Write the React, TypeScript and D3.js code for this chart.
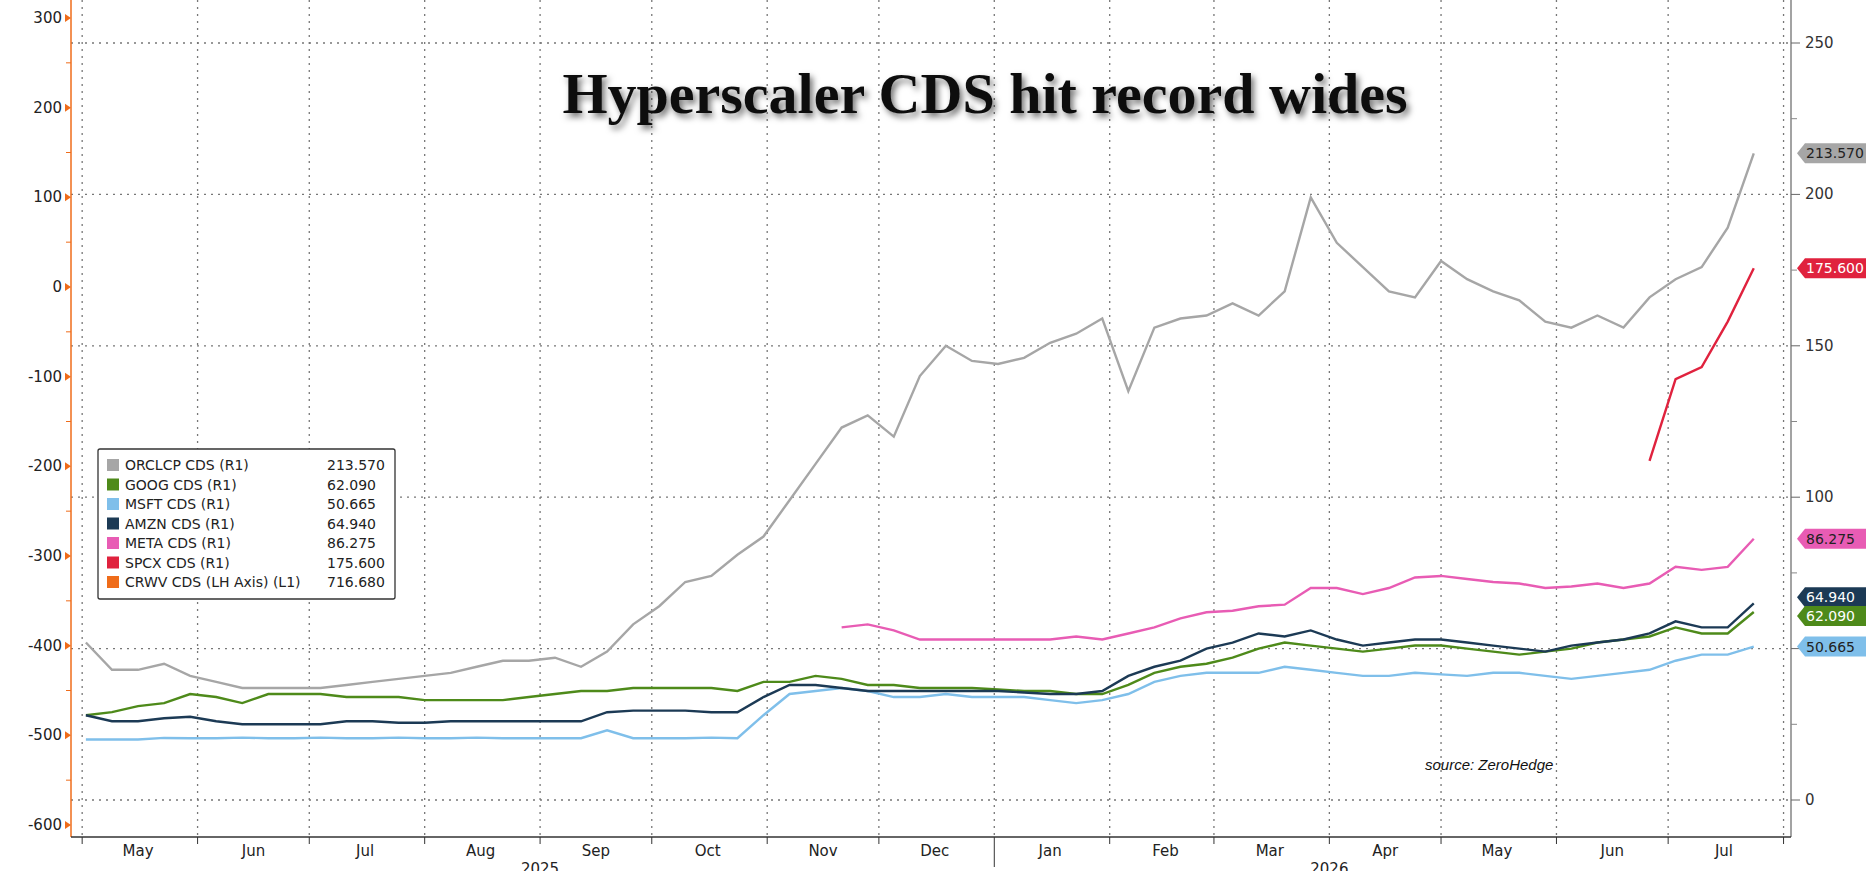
import React from "react";
import * as d3 from "d3";

const START = "2025-05-02";
const WEEKS = 65;
const orcl = [52,43,43,45,41,39,37,37,37,37,38,39,40,41,42,44,46,46,47,44,49,58,64,72,74,81,87,99,111,123,127,120,140,150,145,144,146,151,154,159,135,156,159,160,164,160,168,199,184,176,168,166,178,172,168,165,158,156,160,156,166,172,176,189,213.57];
const goog = [28,29,31,32,35,34,32,35,35,35,34,34,34,33,33,33,33,34,35,36,36,37,37,37,37,36,39,39,41,40,38,38,37,37,37,36.5,36,36,35,35,38,42,44,45,47,50,52,51,50,49,50,51,51,50,49,48,49,50,52,53,54,57,55,55,62.09];
const amzn = [28,26,26,27,27.5,26,25,25,25,25,26,26,25.5,25.5,26,26,26,26,26,26,29,29.5,29.5,29.5,29,29,34,38,38,37,36,36,36,36,36,36,35.5,35,35,36,41,44,46,50,52,55,54,56,53,51,52,53,53,52,51,50,49,51,52,53,55,59,57,57,64.94];
const msft = [20,20,20,20.5,20.4,20.4,20.6,20.4,20.4,20.6,20.4,20.4,20.6,20.4,20.4,20.6,20.4,20.4,20.4,20.4,23,20.4,20.4,20.4,20.6,20.4,28,35,36,37,36,34,34,35,34,34,34,33,32,33,35,39,41,42,42,42,44,43,42,41,41,42,41.5,41,42,42,41,40,41,42,43,46,48,48,50.665];
const meta: (number|null)[] = [...Array(29).fill(null),57,58,56,53,53,53,53,53,53,54,53,55,57,60,62,62.5,64,64.5,70,70,68,70,73.5,74,73,72,71.5,70,70.5,71.5,70,71.5,77,76,77,86.275];
const spcx: (number|null)[] = [...Array(60).fill(null),112,139,143,158,175.6];

const legendNames = ["ORCLCP CDS (R1)","GOOG CDS (R1)","MSFT CDS (R1)","AMZN CDS (R1)","META CDS (R1)","SPCX CDS  (R1)","CRWV CDS (LH Axis) (L1)"];
const legendValues = ["213.570","62.090","50.665","64.940","86.275","175.600","716.680"];
const colors = ["#a6a6a6","#4e8a1a","#7fbfea","#1c3a55","#e85cb4","#e0223e","#ef6c1a"];
const monthLabels = ["May","Jun","Jul","Aug","Sep","Oct","Nov","Dec","Jan","Feb","Mar","Apr","May","Jun","Jul"];
const leftTicks = [300,200,100,0,-100,-200,-300,-400,-500,-600];
const rightTicks = [0,50,100,150,200,250];

export default function App() {
  const W = 1866, H = 871;
  const x = d3.scaleTime().domain([new Date(2025,3,28), new Date(2026,7,3)]).range([71, 1791]);
  const yR = d3.scaleLinear().domain([0,250]).range([800,43]);
  const yL = d3.scaleLinear().domain([-600,300]).range([825,18]);
  const t0 = new Date(START + "T00:00:00");
  const dates = d3.range(WEEKS).map(i => d3.timeDay.offset(t0, 7*i));
  const series = [orcl, goog, msft, amzn, meta, spcx];
  const line = d3.line<[Date, number|null]>().defined(d => d[1] != null).x(d => x(d[0])).y(d => yR(d[1] as number));
  const months = d3.timeMonth.range(new Date(2025,4,1), new Date(2026,7,2));
  const plotBottom = 837;
  const font = "DejaVu Sans";
  const tags = [
    {v:213.57, c:colors[0], t:"213.570", tc:"#222"},
    {v:175.6, c:colors[5], t:"175.600", tc:"#fff"},
    {v:86.275, c:colors[4], t:"86.275", tc:"#222"},
    {v:64.94, c:colors[3], t:"64.940", tc:"#fff", dy:-6},
    {v:62.09, c:colors[1], t:"62.090", tc:"#fff", dy:4},
    {v:50.665, c:colors[2], t:"50.665", tc:"#222"},
  ];
  return (
    <svg width={W} height={H} style={{position:"absolute",left:0,top:0,background:"#fff"}} fontFamily={font}>
      <defs>
        <filter id="sh" x="-10%" y="-30%" width="120%" height="160%">
          <feDropShadow dx="3" dy="4" stdDeviation="3" floodColor="#000" floodOpacity="0.55"/>
        </filter>
      </defs>
      {rightTicks.map(t => <line key={"h"+t} x1={71} x2={1791} y1={yR(t)} y2={yR(t)} stroke="#777" strokeDasharray="2,5" strokeWidth={1.3}/>)}
      {months.map((m,i) => <line key={"v"+i} x1={x(m)} x2={x(m)} y1={0} y2={plotBottom} stroke="#777" strokeDasharray="2,5" strokeWidth={1.3}/>)}
      <text x={985} y={113} textAnchor="middle" fontFamily="Liberation Serif" fontWeight="bold" fontSize={58} fill="#111" filter="url(#sh)">Hyperscaler CDS hit record wides</text>
      {series.map((s,i) => <path key={i} d={line(dates.map((d,j)=>[d, s[j] ?? null]) as any) || ""} fill="none" stroke={colors[i]} strokeWidth={2.4}/>)}
      <line x1={71} x2={71} y1={0} y2={plotBottom} stroke={colors[6]} strokeWidth={1.5}/>
      {leftTicks.map(t => <g key={"l"+t}>
        <path d={`M${71},${yL(t)} l-6,-4 v8 z`} fill={colors[6]}/>
        <text x={62} y={yL(t)+5} textAnchor="end" fontSize={15} fill="#222">{t}</text>
      </g>)}
      {leftTicks.slice(0,-1).map(t => <line key={"lm"+t} x1={66} x2={71} y1={yL(t-50)} y2={yL(t-50)} stroke={colors[6]}/>)}
      <line x1={1791} x2={1791} y1={0} y2={plotBottom} stroke="#666" strokeWidth={1.2}/>
      {rightTicks.map(t => <g key={"r"+t}>
        <line x1={1791} x2={1800} y1={yR(t)} y2={yR(t)} stroke="#666"/>
        <text x={1805} y={yR(t)+5} fontSize={15} fill="#333">{t}</text>
      </g>)}
      {[25,75,125,175,225].map(t => <line key={"rm"+t} x1={1791} x2={1797} y1={yR(t)} y2={yR(t)} stroke="#888"/>)}
      {tags.map((g,i) => { const yy = yR(g.v) + (g.dy||0); return <g key={"t"+i}>
        <path d={`M1797,${yy} l8,-10 h61 v20 h-61 z`} fill={g.c}/>
        <text x={1806} y={yy+5} fontSize={14} fill={g.tc}>{g.t}</text>
      </g>;})}
      <line x1={71} x2={1791} y1={plotBottom} y2={plotBottom} stroke="#333" strokeWidth={1.3}/>
      {months.map((m,i) => <line key={"bt"+i} x1={x(m)} x2={x(m)} y1={plotBottom} y2={plotBottom+(m.getMonth()===0?30:7)} stroke="#333"/>)}
      {monthLabels.map((l,i) => <text key={"ml"+i} x={x(d3.timeDay.offset(months[i],15))} y={856} textAnchor="middle" fontSize={15} fill="#222">{l}</text>)}
      <text x={x(new Date(2025,8,1))} y={874} textAnchor="middle" fontSize={15} fill="#222">2025</text>
      <text x={x(new Date(2026,3,1))} y={874} textAnchor="middle" fontSize={15} fill="#222">2026</text>
      <rect x={98} y={449} width={297} height={150} fill="#fff" stroke="#333" strokeWidth={1.3} rx={2}/>
      {legendNames.map((n,i) => <g key={"lg"+i}>
        <rect x={107} y={459+i*19.5} width={12} height={12} fill={colors[i]}/>
        <text x={125} y={470+i*19.5} fontSize={14} fill="#222">{n}</text>
        <text x={327} y={470+i*19.5} fontSize={14} fill="#222">{legendValues[i]}</text>
      </g>)}
      <text x={1425} y={770} fontSize={15} fontStyle="italic" fill="#111" fontFamily="Liberation Sans">source: ZeroHedge</text>
    </svg>
  );
}
